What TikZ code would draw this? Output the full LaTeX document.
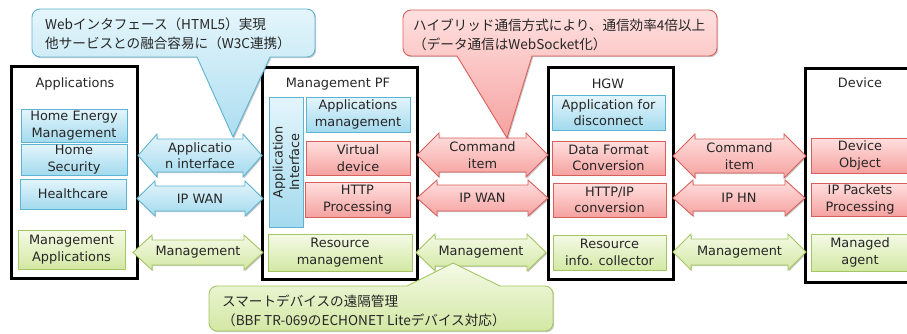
\documentclass[tikz,border=0pt]{standalone}
\usepackage{fontspec}
\setmainfont{DejaVu Sans}
\newfontfamily\jp{Noto Sans CJK JP}
\usetikzlibrary{shadows}
\definecolor{txt}{HTML}{262626}
\definecolor{bluetop}{HTML}{E4F5FB}
\definecolor{bluebot}{HTML}{A3DAEE}
\definecolor{blueline}{HTML}{5DB3D2}
\definecolor{redtop}{HTML}{FFE0DF}
\definecolor{redbot}{HTML}{F5A2A0}
\definecolor{redline}{HTML}{D8605C}
\definecolor{greentop}{HTML}{F4FAE6}
\definecolor{greenbot}{HTML}{D3E8A4}
\definecolor{greenline}{HTML}{A5C563}
\newcommand{\darr}[9]{%
  \path[#1] (#2,#4) -- ({#2+#7},{#4-#5}) -- ({#2+#7},{#4-#6}) -- ({#3-#7},{#4-#6})
    -- ({#3-#7},{#4-#5}) -- (#3,#4) -- ({#3-#7},{#4+#5}) -- ({#3-#7},{#4+#6})
    -- ({#2+#7},{#4+#6}) -- ({#2+#7},{#4+#5}) -- cycle;
  \node[lbl] (#8) at ({(#2+#3)/2},#4) {#9};}
\begin{document}
\begin{tikzpicture}[x=1pt,y=-1pt,
  font=\fontsize{12.9}{16.5}\selectfont, text=txt,
  shadowed/.style={drop shadow={shadow xshift=1.2pt, shadow yshift=-1.2pt, opacity=0.22, fill=black}},
  box/.style={rectangle, inner sep=0pt, align=center, line width=0.9pt, shadowed},
  bluebox/.style={box, draw=blueline, top color=bluetop, bottom color=bluebot},
  redbox/.style={box, draw=redline, top color=redtop, bottom color=redbot},
  greenbox/.style={box, draw=greenline, top color=greentop, bottom color=greenbot},
  frame/.style={rectangle, draw=black, line width=3pt, inner sep=0pt},
  title/.style={inner sep=0pt},
  lbl/.style={inner sep=0pt, align=center},
  barrow/.style={draw=blueline, line width=0.9pt, top color=bluetop, bottom color=bluebot, shadowed},
  rarrow/.style={draw=redline, line width=0.9pt, top color=redtop, bottom color=redbot, shadowed},
  garrow/.style={draw=greenline, line width=0.9pt, top color=greentop, bottom color=greenbot, shadowed},
  ctext/.style={inner sep=0pt, align=left, anchor=west, font=\jp\fontsize{13.6}{19}\selectfont},
]
\useasboundingbox (0,0) rectangle (907,333);
\clip (0,0) rectangle (907,333);

% outer frames
\node[frame, minimum width=126pt, minimum height=212pt] (apps) at (74,172) {};
\node[frame, minimum width=155pt, minimum height=212pt] (mpf) at (339.5,173) {};
\node[frame, minimum width=125pt, minimum height=212pt] (hgw) at (610.5,173) {};
\node[frame, minimum width=115pt, minimum height=214pt] (dev) at (862.5,175) {};

\node[title] (tapps) at (75,84) {Applications};
\node[title] (tmpf) at (338,84) {Management PF};
\node[title] (thgw) at (608,84) {HGW};
\node[title] (tdev) at (860,83) {Device};

% Applications column
\node[bluebox, minimum width=106pt, minimum height=33pt] (hem) at (74,125.5) {Home Energy\\Management};
\node[bluebox, minimum width=106pt, minimum height=31pt] (hs) at (74,159.5) {Home\\Security};
\node[bluebox, minimum width=106pt, minimum height=30pt] (hc) at (73,194) {Healthcare};
\node[greenbox, minimum width=107pt, minimum height=39pt] (ma) at (71.5,249.5) {Management\\Applications};

% Management PF column
\node[bluebox, minimum width=34pt, minimum height=130pt] (appif) at (286,162) {};
\node[lbl, rotate=90] (appift) at (appif.center) {Application\\Interface};
\node[bluebox, minimum width=104pt, minimum height=35pt] (am) at (358,114.5) {Applications\\management};
\node[redbox, minimum width=104pt, minimum height=34pt] (vd) at (358,158) {Virtual\\device};
\node[redbox, minimum width=105pt, minimum height=35pt] (hp) at (357.5,199.5) {HTTP\\Processing};
\node[greenbox, minimum width=144pt, minimum height=37pt] (rm) at (340,252.5) {Resource\\management};

% HGW column
\node[bluebox, minimum width=113pt, minimum height=35pt] (afd) at (608.5,112.5) {Application for\\disconnect};
\node[redbox, minimum width=113pt, minimum height=34pt] (dfc) at (608.5,158) {Data Format\\Conversion};
\node[redbox, minimum width=113pt, minimum height=34pt] (hic) at (609.5,200) {HTTP/IP\\conversion};
\node[greenbox, minimum width=113pt, minimum height=35pt] (ric) at (609.5,252.5) {Resource\\info. collector};

% Device column
\node[redbox, minimum width=98pt, minimum height=35pt] (dobj) at (860,155.5) {Device\\Object};
\node[redbox, minimum width=98pt, minimum height=33pt] (ipp) at (860,199.5) {IP Packets\\Processing};
\node[greenbox, minimum width=98pt, minimum height=37pt] (mag) at (860,252.5) {Managed\\agent};

% double arrows
\darr{barrow}{138}{262}{155.5}{21.5}{16.5}{19}{a1}{Applicatio\\n interface}
\darr{barrow}{137}{263}{198.5}{17.5}{12.5}{18}{a2}{IP WAN}
\darr{garrow}{133}{263}{252.5}{17.5}{12.5}{19}{a3}{Management}
\darr{rarrow}{417}{548}{155}{22}{17}{22}{b1}{Command\\item}
\darr{rarrow}{417}{548}{198}{18}{13}{20}{b2}{IP WAN}
\darr{garrow}{416}{546}{252.5}{18.5}{13.5}{19}{b3}{Management}
\darr{rarrow}{673}{806}{156}{22}{17}{22}{c1}{Command\\item}
\darr{rarrow}{673}{805}{198}{18}{13}{20}{c2}{IP HN}
\darr{garrow}{673}{806}{252}{18}{13}{18}{c3}{Management}

% callouts
\path[draw=blueline, line width=0.9pt, top color=bluetop, bottom color=bluebot!90!white, shadowed]
  (233,137) -- (270,57) [rounded corners=8pt] -- (315,57) -- (315,9) -- (32,9) -- (32,57)
  [sharp corners] -- (197,57) -- cycle;
\node[ctext] (cb) at (45,33.5) {Webインタフェース（HTML5）実現\\他サービスとの融合容易に（W3C連携）};

\path[draw=redline, line width=0.9pt, top color=redtop, bottom color=redbot, shadowed]
  (507,138) -- (532,56) [rounded corners=8pt] -- (717,56) -- (717,10) -- (403,10) -- (403,56)
  [sharp corners] -- (457,56) -- cycle;
\node[ctext] (cr) at (413,34.5) {ハイブリッド通信方式により、通信効率4倍以上\\（データ通信はWebSocket化）};

\path[draw=greenline, line width=0.9pt, top color=greentop, bottom color=greenbot, shadowed]
  (453,263) -- (500,286) [rounded corners=8pt] -- (553,286) -- (553,331) -- (209,331) -- (209,286)
  [sharp corners] -- (407,286) -- cycle;
\node[ctext] (cg) at (222,311) {スマートデバイスの遠隔管理\\（BBF TR-069のECHONET Liteデバイス対応）};
\end{tikzpicture}
\end{document}
